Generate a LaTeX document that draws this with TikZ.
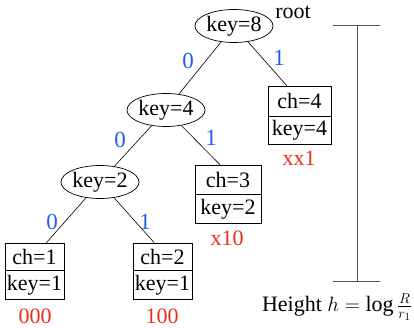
\documentclass[tikz,border=0pt]{standalone}
\usepackage{fontspec}
\setmainfont{Liberation Serif}
\usetikzlibrary{shapes.geometric,calc}
\definecolor{edgeblue}{RGB}{30,95,235}
\definecolor{codered}{RGB}{235,45,30}
\definecolor{bargray}{RGB}{85,85,85}
\tikzset{
  keyell/.style={ellipse, draw, line width=0.7pt, inner sep=0pt, minimum width=75pt, minimum height=33pt},
  cell/.style={draw, line width=0.7pt, inner sep=0pt},
  edge/.style={line width=0.6pt},
  bit/.style={text=edgeblue, inner sep=0pt, font=\fontsize{23}{26}\selectfont},
  code/.style={text=codered, inner sep=0pt},
  bar/.style={bargray, line width=1pt}
}
\begin{document}
\begin{tikzpicture}[x=1pt, y=-1pt, font=\fontsize{22}{25}\selectfont]
\useasboundingbox (0,0) rectangle (414,328);
% ellipses
\node[keyell] (root) at (234,26) {key=8};
\node[keyell] (k4) at (166,110) {key=4};
\node[keyell] (k2) at (100,182) {key=2};
\node[inner sep=0pt] (rootlbl) at (293,12) {root};
% boxes
\node[cell, minimum width=63pt, minimum height=30pt] (ch4) at (299.5,101) {ch=4};
\node[cell, minimum width=63pt, minimum height=28pt, anchor=north] (ch4k) at (ch4.south) {key=4};
\node[cell, minimum width=66pt, minimum height=29pt] (ch3) at (228,179.5) {ch=3};
\node[cell, minimum width=66pt, minimum height=29pt, anchor=north] (ch3k) at (ch3.south) {key=2};
\node[cell, minimum width=59pt, minimum height=27pt] (ch1) at (34.5,256.5) {ch=1};
\node[cell, minimum width=59pt, minimum height=29pt, anchor=north] (ch1k) at (ch1.south) {key=1};
\node[cell, minimum width=59pt, minimum height=27pt] (ch2) at (162.5,256.5) {ch=2};
\node[cell, minimum width=59pt, minimum height=29pt, anchor=north] (ch2k) at (ch2.south) {key=1};
% codes
\node[code] (c4) at (299,158) {xx1};
\node[code] (c3) at (227,238) {x10};
\node[code] (c1) at (35,316) {000};
\node[code] (c2) at (162,316) {100};
% edges
\draw[edge] (root) -- (k4);
\draw[edge] (root) -- ($(ch4.north west)!0.3!(ch4.north east)$);
\draw[edge] (k4) -- (k2);
\draw[edge] (k4) -- ($(ch3.north west)!0.38!(ch3.north east)$);
\draw[edge] (k2) -- ($(ch1.north west)!0.7!(ch1.north east)$);
\draw[edge] (k2) -- ($(ch2.north west)!0.36!(ch2.north east)$);
% edge labels
\node[bit] (b1) at (188,61) {0};
\node[bit] (b2) at (279,58) {1};
\node[bit] (b3) at (120,140) {0};
\node[bit] (b4) at (211,138) {1};
\node[bit] (b5) at (52,222) {0};
\node[bit] (b6) at (145,222) {1};
% height bar
\coordinate (bt) at (357,26);
\coordinate (bb) at (357,281);
\draw[bar] (bt) -- (bb);
\draw[bar] ($(bt)+(-24,0)$) -- ($(bt)+(23,0)$);
\draw[bar] ($(bb)+(-24,0)$) -- ($(bb)+(23,0)$);
\node[inner sep=0pt] (hlbl) at (337,307) {Height $h=\log\frac{R}{r_1}$};
\end{tikzpicture}
\end{document}
